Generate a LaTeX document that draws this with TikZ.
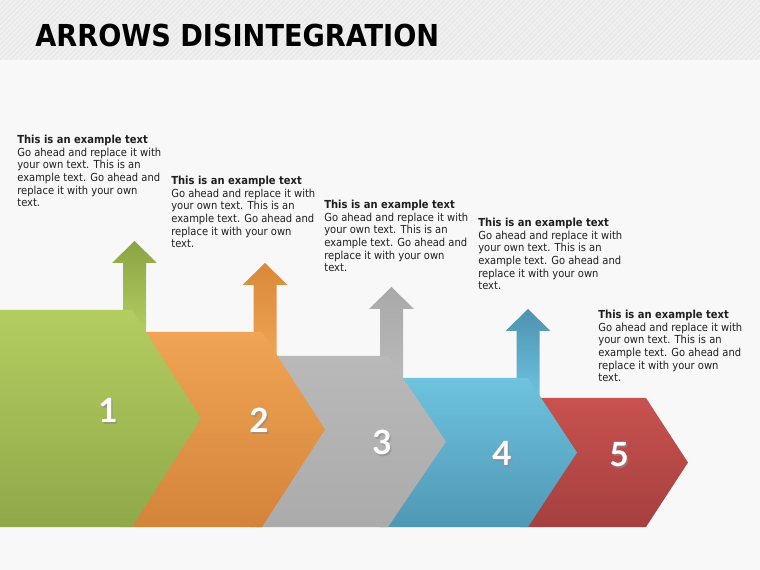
\documentclass[tikz,border=0pt]{standalone}
\usepackage{fontspec}
\setmainfont{DejaVu Sans Condensed}
\newfontfamily\numfont{Lato}
\usepackage{tikz}
\usetikzlibrary{positioning}

\definecolor{pagebg}{HTML}{F8F8F8}
\definecolor{bandbg}{HTML}{F0F0F0}
\definecolor{stripecol}{HTML}{E6E6E6}
\definecolor{tpgreen}{HTML}{B4CD60}
\definecolor{btgreen}{HTML}{8FA94A}
\definecolor{hdgreen}{HTML}{8AA445}
\definecolor{tporange}{HTML}{F0A455}
\definecolor{btorange}{HTML}{D4843A}
\definecolor{hdorange}{HTML}{D88838}
\definecolor{tpgrey}{HTML}{B9B9B9}
\definecolor{btgrey}{HTML}{ABABAB}
\definecolor{hdgrey}{HTML}{A9A9A9}
\definecolor{tpblue}{HTML}{6EC3DF}
\definecolor{btblue}{HTML}{4F98B5}
\definecolor{hdblue}{HTML}{4D93B0}
\definecolor{tpred}{HTML}{C8524F}
\definecolor{btred}{HTML}{A5403F}

\newcommand{\sampletext}{\textbf{This is an example text}\\Go ahead and replace it with\\your own text. This is an\\example text. Go ahead and\\replace it with your own\\text.}

\tikzset{
  titletext/.style={anchor=base west, inner sep=0pt, font=\bfseries\fontsize{17.2}{18}\selectfont},
  note/.style={anchor=north west, inner sep=0pt, align=left, text=black!88, font=\fontsize{6.3}{7.15}\selectfont},
  num/.style={text=white, inner sep=0pt, font=\numfont\bfseries\fontsize{19}{19}\selectfont},
  numshadow/.style={num, text=black!45, opacity=0.6},
  stripe/.style={stripecol, line width=0.6pt},
}

\begin{document}
\begin{tikzpicture}[x=0.02cm, y=-0.02cm]
  \useasboundingbox (0,0) rectangle (760,570);
  \fill[pagebg] (0,0) rectangle (760,570);
  \fill[bandbg] (0,0) rectangle (760,60);
  \begin{scope}
    \clip (0,0) rectangle (760,60);
    \foreach \k in {0,5,...,830} \draw[stripe] (\k,0) -- (\k-60,60);
  \end{scope}
  \node[titletext] (title) at (35,47) {ARROWS DISINTEGRATION};

  % chevrons, back to front
  \shade[top color=tpred, bottom color=btred] (520,398) -- (646,398) -- (688,462.5) -- (646,527) -- (520,527) -- cycle;
  \foreach \i/\tp/\nt/\sh/\tip/\lx/\cx/\col in {4/378/398/528/577/380/528/blue, 3/356/378/388/446/250/391.5/grey, 2/332/356/262/325/120/265/orange, 1/310/332/132/201/0/134.5/green} {
    \shade[top color=hd\col, bottom color=tp\col] (\cx-11.5,\nt) -- (\cx-11.5,\tp-47) -- (\cx-22.5,\tp-47) -- (\cx,\tp-69)
      -- (\cx+22.5,\tp-47) -- (\cx+11.5,\tp-47) -- (\cx+11.5,\nt) -- cycle;
    \shade[top color=tp\col, bottom color=bt\col] (\lx,\tp) -- (\sh,\tp) -- (\tip,{(\tp+527)/2}) -- (\sh,527) -- (\lx,527) -- cycle;
  }

  % step numbers
  \foreach \i/\x/\y in {1/108/410, 2/259/420, 3/382/442, 4/502/453, 5/619/455} {
    \node[numshadow] (s\i) at (\x+1.5,\y+2) {\i};
    \node[num] (n\i) at (\x,\y) {\i};
  }

  % text blocks
  \foreach \i/\x/\y in {1/17/135, 2/171/176, 3/324/200, 4/478/218, 5/598/310}
    \node[note] (t\i) at (\x,\y) {\sampletext};
\end{tikzpicture}
\end{document}
